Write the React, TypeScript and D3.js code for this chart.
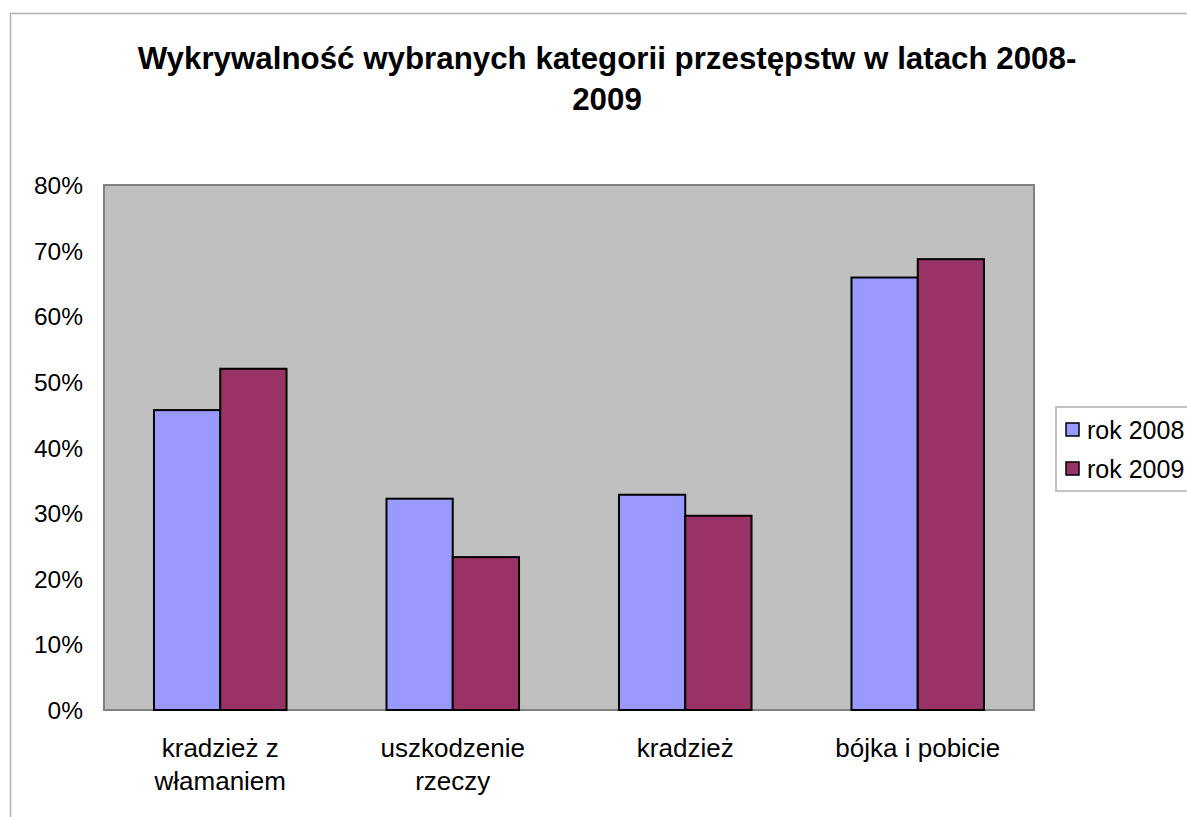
import React from "react";
import * as d3 from "d3";

const categories = [["kradzież z", "włamaniem"], ["uszkodzenie", "rzeczy"], ["kradzież"], ["bójka i pobicie"]];
const seriesNames = ["rok 2008", "rok 2009"];
const values2008 = [0.457, 0.322, 0.328, 0.659];
const values2009 = [0.52, 0.233, 0.296, 0.687];
const yTicks = [0, 0.1, 0.2, 0.3, 0.4, 0.5, 0.6, 0.7, 0.8];
const colors = ["#9999FF", "#993366"];
const titleLines = ["Wykrywalność wybranych kategorii przestępstw w latach 2008-", "2009"];

export default function App() {
  const W = 1187, H = 817;
  const plot = { left: 104, top: 185, right: 1034, bottom: 710 };
  const y = d3.scaleLinear().domain([0, 0.8]).range([plot.bottom, plot.top]);
  const x0 = d3.scaleBand<number>().domain(d3.range(categories.length)).range([plot.left, plot.right]).paddingInner(0.43).paddingOuter(0.215);
  const x1 = d3.scaleBand<number>().domain([0, 1]).range([0, x0.bandwidth()]);
  const series = [values2008, values2009];
  const font = "'Liberation Sans', Arial, sans-serif";
  return (
    <svg width={W} height={H} style={{ position: "absolute", left: 0, top: 0, background: "#fff" }} fontFamily={font}>
      <rect x={10.5} y={13.5} width={W} height={H} fill="#fff" stroke="#b0b0b0" strokeWidth={1.5} />
      {titleLines.map((t, i) => (
        <text key={i} x={607} y={69 + i * 41} textAnchor="middle" fontWeight="bold" fontSize={31.3} fill="#000">{t}</text>
      ))}
      <rect x={plot.left} y={plot.top} width={plot.right - plot.left} height={plot.bottom - plot.top} fill="#C0C0C0" stroke="#808080" strokeWidth={2} />
      {yTicks.map((t) => (
        <text key={t} x={83} y={y(t) + 9} textAnchor="end" fontSize={24.5} fill="#000">{d3.format(".0%")(t)}</text>
      ))}
      {categories.map((c, ci) => (
        <g key={ci}>
          {series.map((s, si) => (
            <rect key={si} x={(x0(ci) as number) + (x1(si) as number)} y={y(s[ci])} width={x1.bandwidth()} height={y(0) - y(s[ci])} fill={colors[si]} stroke="#000" strokeWidth={2} />
          ))}
          {c.map((line, li) => (
            <text key={li} x={(x0(ci) as number) + x0.bandwidth() / 2} y={757 + li * 33} textAnchor="middle" fontSize={26} fill="#000">{line}</text>
          ))}
        </g>
      ))}
      <rect x={1056} y={407} width={W} height={84} fill="#fff" stroke="#b0b0b0" strokeWidth={1.5} />
      {seriesNames.map((n, i) => (
        <g key={n}>
          <rect x={1066} y={423 + i * 39} width={13} height={13} fill={colors[i]} stroke="#000" strokeWidth={1.5} />
          <text x={1087} y={439 + i * 39} fontSize={25} fill="#000">{n}</text>
        </g>
      ))}
    </svg>
  );
}
